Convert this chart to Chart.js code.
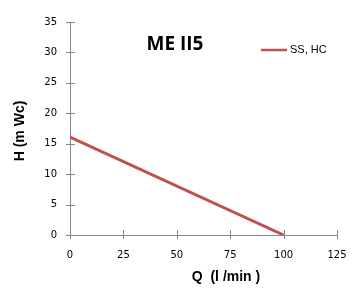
<!DOCTYPE html>
<html><head><meta charset="utf-8">
<script src="https://cdn.jsdelivr.net/npm/chart.js@4/dist/chart.umd.min.js"></script>
<style>html,body{margin:0;padding:0;background:#fff}canvas{display:block}</style>
</head><body>
<canvas id="c" width="364" height="290"></canvas>
<script>
const flowValues = [0, 100];
const headValues = [16.1, 0];
const seriesName = 'SS, HC';
const chartTitle = 'ME II5';
const xTitle = 'Q  (l /min )';
const yTitle = 'H (m Wc)';

const points = flowValues.map((x, i) => ({x: x, y: headValues[i]}));
const axisColor = '#868686';
const lineColor = '#c0504d';

const deco = {
  id: 'deco',
  afterDraw(chart) {
    const ctx = chart.ctx, xs = chart.scales.x, ys = chart.scales.y, a = chart.chartArea;
    ctx.save();
    ctx.strokeStyle = axisColor; ctx.lineWidth = 1;
    ctx.beginPath();
    ys.ticks.forEach(t => { const y = Math.round(ys.getPixelForValue(t.value)) + 0.5; ctx.moveTo(a.left - 4, y); ctx.lineTo(a.left + 5, y); });
    xs.ticks.forEach(t => { const x = Math.round(xs.getPixelForValue(t.value)) + 0.5; ctx.moveTo(x, a.bottom - 5); ctx.lineTo(x, a.bottom + 4); });
    ctx.stroke();
    // title
    ctx.fillStyle = '#000';
    ctx.textAlign = 'center'; ctx.textBaseline = 'middle';
    ctx.font = 'bold 19px "Open Sans"';
    ctx.fillText(chartTitle, 175, 45);
    // legend
    ctx.strokeStyle = lineColor; ctx.lineWidth = 2.5;
    ctx.beginPath(); ctx.moveTo(261, 50); ctx.lineTo(287, 50); ctx.stroke();
    ctx.textAlign = 'left';
    ctx.font = '11px "Liberation Sans"';
    ctx.fillText(seriesName, 290, 50);
    // axis titles
    ctx.font = 'bold 14px "Liberation Sans"';
    ctx.textAlign = 'center';
    ctx.fillText(xTitle, 226, 277);
    ctx.translate(20, 131); ctx.rotate(-Math.PI / 2);
    ctx.fillText(yTitle, 0, 0);
    ctx.restore();
  }
};

new Chart(document.getElementById('c'), {
  type: 'scatter',
  data: { datasets: [{ label: seriesName, data: points, showLine: true, borderColor: lineColor, backgroundColor: lineColor, borderWidth: 3, pointRadius: 0, tension: 0 }] },
  options: {
    responsive: false, animation: false, devicePixelRatio: 1,
    layout: { padding: { left: 0, top: 22, right: 27, bottom: 0 } },
    plugins: { legend: { display: false }, tooltip: { enabled: false }, title: { display: false } },
    scales: {
      x: {
        type: 'linear', min: 0, max: 125,
        ticks: { stepSize: 25, padding: 14, color: '#000', font: { family: 'DejaVu Sans', size: 10 }, maxRotation: 0 },
        grid: { display: false, drawTicks: false },
        border: { display: true, color: axisColor, width: 1 },
        afterFit: s => { s.height = 55; }
      },
      y: {
        type: 'linear', min: 0, max: 35,
        ticks: { stepSize: 5, padding: 13, color: '#000', font: { family: 'DejaVu Sans', size: 10 } },
        grid: { display: false, drawTicks: false },
        border: { display: true, color: axisColor, width: 1 },
        afterFit: s => { s.width = 70; }
      }
    }
  },
  plugins: [deco]
});
</script>
</body></html>
